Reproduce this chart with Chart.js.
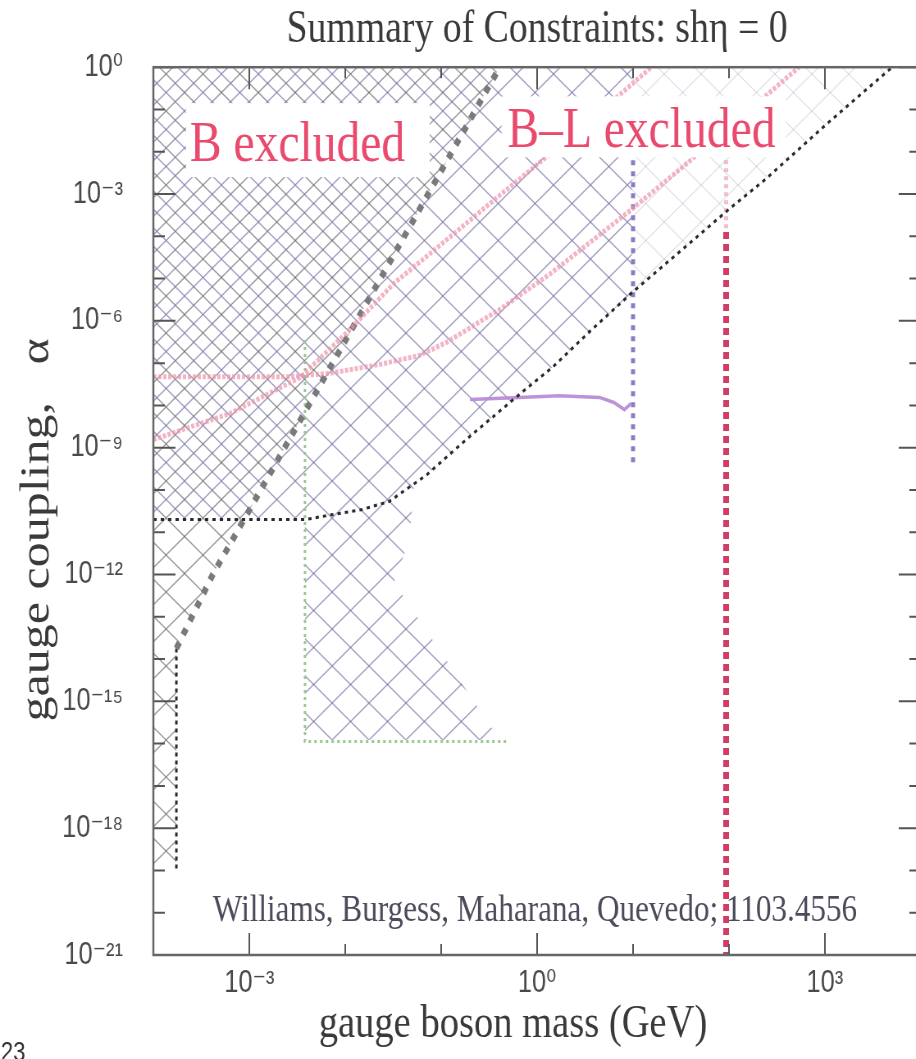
<!DOCTYPE html>
<html>
<head>
<meta charset="utf-8">
<script src="https://cdn.jsdelivr.net/npm/chart.js@4.4.1/dist/chart.umd.min.js"></script>
<style>
  body { margin: 0; overflow: hidden; background: #fff; }
  /* the scanned figure is squeezed horizontally; draw wide and squeeze the same way */
  #wrap { width: 1134px; height: 1059px; transform: scaleX(0.82); transform-origin: 0 0; }
</style>
</head>
<body>
<div id="wrap"><canvas id="c" width="1134" height="1059"></canvas></div>
<script>
// all values are log10 of mass (GeV) and log10 of alpha
const xTickExp = [-4, -3, -2, -1, 0, 1, 2, 3, 4];
const yTickExp = [0, -1, -2, -3, -4, -5, -6, -7, -8, -9, -10, -11, -12, -13, -14, -15, -16, -17, -18, -19, -20, -21];
const xLabelExp = [-3, 0, 3];
const yLabelExp = [0, -3, -6, -9, -12, -15, -18, -21];

// B bound (grey squares) and its dotted tail
const bLineM = [-3.76, -3.38, -1.67, -0.39];
const bLineA = [-13.75, -12.0, -5.15, 0.0];
const bTailM = [-3.76, -3.76];
const bTailA = [-13.75, -19.0];
const bFloorA = -19.0;

// B-L bound (black dotted)
const blM = [-4.0, -2.42, -1.82, -1.54, -1.15, -0.705, -0.185, 0.16, 0.54, 0.99, 1.55, 2.0, 2.38, 3.04, 3.70];
const blA = [-10.70, -10.70, -10.46, -10.27, -9.64, -8.74, -7.74, -7.10, -6.27, -5.33, -4.24, -3.36, -2.65, -1.30, 0.0];

// hatched wedge below the B-L bound
const triM = [-2.42, -1.82, -1.54, -1.28, -1.33, -1.49, -0.39, -2.42, -2.42];
const triA = [-10.70, -10.46, -10.27, -9.75, -11.17, -12.19, -15.91, -15.91, -10.70];

// green dashed
const greenM = [-2.42, -2.42, -0.30];
const greenA = [-6.45, -15.95, -15.95];

// purple solid + purple dashed
const purpM = [-0.70, -0.185, 0.23, 0.65, 0.80, 0.91, 0.98];
const purpA = [-7.86, -7.81, -7.77, -7.81, -7.93, -8.10, -7.95];
const purpDashM = [1.0, 1.0];
const purpDashA = [-2.2, -9.4];

// red dashed (Z-ish mass) and faint top piece
const redM = [1.97, 1.97];
const redA = [-3.9, -21.0];
const redTopM = [1.97, 1.97];
const redTopA = [-2.2, -3.9];

// pink bands
const pinkUpM = [-4.0, -3.20, -2.47, -1.95, -1.49, -0.91, -0.39, 0.13, 0.65, 1.19];
const pinkUpA = [-8.81, -8.19, -7.34, -6.20, -5.11, -4.02, -3.03, -2.06, -1.07, 0.0];
const pinkLoM = [-4.0, -2.58, -2.16, -1.64, -1.23, -0.945, -0.39, 0.13, 0.96, 1.55, 2.10, 2.73];
const pinkLoA = [-7.32, -7.32, -7.24, -7.03, -6.82, -6.51, -5.73, -4.90, -3.41, -2.30, -1.23, 0.0];

const SUP = {'-': '⁻', '0': '⁰', '1': '¹', '2': '²', '3': '³', '4': '⁴', '5': '⁵', '6': '⁶', '7': '⁷', '8': '⁸', '9': '⁹'};
const sup = e => String(e).split('').map(ch => SUP[ch]).join('');
const pts = (ms, as) => ms.map((m, i) => ({x: 10 ** m, y: 10 ** as[i]}));

function hatch(color, lw, off) {
    const w = 45, h = 37;
    const c = document.createElement('canvas');
    c.width = w; c.height = h;
    const g = c.getContext('2d');
    g.strokeStyle = color; g.lineWidth = lw;
    for (let k = -2; k <= 2; k++) {
        const x0 = off + k * w;
        g.beginPath(); g.moveTo(x0 - 2 * w, -2 * h); g.lineTo(x0 + 2 * w, 2 * h); g.stroke();
        g.beginPath(); g.moveTo(x0 + 2 * w, -2 * h); g.lineTo(x0 - 2 * w, 2 * h); g.stroke();
    }
    return g.createPattern(c, 'repeat');
}
const hatchBL = hatch('rgba(110,105,160,0.62)', 1.4, 0);
const hatchB = hatch('rgba(95,95,105,0.62)', 1.4, 22.5);
const hatchFaint = hatch('rgba(140,140,175,0.28)', 1.2, 0);

function line(data, color, width, dash) {
    return {data, showLine: true, pointRadius: 0, borderColor: color, borderWidth: width,
            borderDash: dash || [], borderCapStyle: 'butt', fill: false, tension: 0, order: 1};
}
function area(data, pattern, fill) {
    return {data, showLine: true, pointRadius: 0, borderWidth: 0, borderColor: 'rgba(0,0,0,0)',
            backgroundColor: pattern, fill, tension: 0, order: 5};
}

const bArea = [{x: 1e-4, y: 10 ** bFloorA}, {x: 10 ** bTailM[0], y: 10 ** bFloorA}].concat(pts(bLineM, bLineA));

const datasets = [
    line(pts(pinkUpM, pinkUpA), 'rgba(236,150,172,0.7)', 5, [4, 2]),
    line(pts(pinkLoM, pinkLoA), 'rgba(236,150,172,0.7)', 5, [4, 2]),
    line(pts(bLineM, bLineA), '#7a7a7a', 7, [7, 9]),
    line(pts(bTailM, bTailA), '#2a2a2a', 3, [4, 4]),
    line(pts(blM, blA), '#2a2a2a', 3, [4, 5]),
    line(pts(greenM, greenA), '#9cc88f', 3, [3, 4]),
    line(pts(purpM, purpA), 'rgba(185,140,215,0.95)', 3.5),
    line(pts(purpDashM, purpDashA), '#8c7cc0', 5, [5, 6]),
    line(pts(redM, redA), '#d23c64', 7, [7, 5]),
    line(pts(redTopM, redTopA), 'rgba(230,150,170,0.6)', 5, [4, 4]),
    area(pts(blM.slice(0, 10), blA.slice(0, 10)), hatchBL, 'end'),
    area(pts(blM.slice(9), blA.slice(9)), hatchFaint, 'end'),
    area(pts(triM, triA), hatchBL, 'shape'),
    area(bArea, hatchB, 'end')
];

const at = (chart, m, a) => [chart.scales.x.getPixelForValue(10 ** m), chart.scales.y.getPixelForValue(10 ** a)];

const overlay = {
    id: 'overlay',
    beforeDatasetsDraw(chart) {
        const ctx = chart.ctx;
        ctx.save();
        ctx.font = '38px "Liberation Serif"';
        ctx.fillStyle = '#4b4b5c';
        ctx.textBaseline = 'alphabetic';
        const [tx, ty] = at(chart, -3.38, -20.2);
        ctx.fillText('Williams, Burgess, Maharana, Quevedo; 1103.4556', tx, ty);
        ctx.restore();
    },
    afterDatasetsDraw(chart) {
        const ctx = chart.ctx;
        ctx.save();
        ctx.fillStyle = '#fff';
        [[-3.66, -0.85, -1.12, -2.60], [-0.37, -0.69, 2.59, -2.13]].forEach(b => {
            const [x1, y1] = at(chart, b[0], b[1]);
            const [x2, y2] = at(chart, b[2], b[3]);
            ctx.fillRect(x1, y1, x2 - x1, y2 - y1);
        });
        ctx.font = '58px "Liberation Serif"';
        ctx.fillStyle = '#e94a6e';
        ctx.textBaseline = 'alphabetic';
        let [tx, ty] = at(chart, -3.62, -2.225);
        ctx.fillText('B excluded', tx, ty);
        [tx, ty] = at(chart, -0.31, -1.89);
        ctx.fillText('B–L excluded', tx, ty);
        ctx.restore();
    },
    afterDraw(chart) {
        const {ctx, chartArea: a, scales: {x, y}} = chart;
        ctx.save();
        ctx.strokeStyle = '#555';
        ctx.lineWidth = 2;
        ctx.beginPath();
        xTickExp.forEach(e => {
            const p = x.getPixelForValue(10 ** e);
            const len = e % 3 === 0 ? 22 : 11;
            ctx.moveTo(p, a.bottom); ctx.lineTo(p, a.bottom - len);
            ctx.moveTo(p, a.top); ctx.lineTo(p, a.top + len);
        });
        yTickExp.forEach(e => {
            const p = y.getPixelForValue(10 ** e);
            const len = e % 3 === 0 ? 27 : 14;
            ctx.moveTo(a.left, p); ctx.lineTo(a.left + len, p);
            ctx.moveTo(a.right, p); ctx.lineTo(a.right - len, p);
        });
        ctx.stroke();
        ctx.strokeStyle = '#666';
        ctx.lineWidth = 2.5;
        ctx.strokeRect(a.left, a.top, a.right - a.left, a.bottom - a.top);
        ctx.font = '27px "Liberation Sans"';
        ctx.fillStyle = '#333';
        ctx.textBaseline = 'top';
        ctx.fillText('23', 1, 1040);
        ctx.restore();
    }
};

Chart.defaults.font.family = '"Liberation Serif", serif';

new Chart(document.getElementById('c'), {
    type: 'scatter',
    data: {datasets},
    plugins: [overlay],
    options: {
        responsive: false,
        devicePixelRatio: 1,
        animation: false,
        events: [],
        layout: {padding: {left: 0, right: 11, top: 0, bottom: 0}},
        plugins: {
            legend: {display: false},
            tooltip: {enabled: false},
            title: {
                display: true, fullSize: false,
                text: 'Summary of Constraints: shη = 0',
                font: {family: '"Liberation Serif", serif', size: 46, weight: 'normal'},
                color: '#3a3a3a',
                padding: {top: 2, bottom: 10}
            }
        },
        scales: {
            x: {
                type: 'logarithmic', position: 'bottom', min: 1e-4, max: 1e4,
                afterFit: s => { s.height = 104; },
                afterBuildTicks: s => { s.ticks = xTickExp.map(e => ({value: 10 ** e})); },
                grid: {display: false, drawTicks: false},
                border: {display: false},
                ticks: {
                    autoSkip: false, maxRotation: 0, minRotation: 0, padding: 10,
                    font: {family: '"Liberation Sans", "DejaVu Sans", sans-serif', size: 31},
                    color: '#4a4a4a',
                    callback: v => {
                        const e = Math.round(Math.log10(v));
                        return xLabelExp.includes(e) ? '10' + sup(e) : '';
                    }
                },
                title: {
                    display: true, text: 'gauge boson mass (GeV)     ',
                    font: {family: '"Liberation Serif", serif', size: 47},
                    color: '#3a3a3a', padding: {top: 0, bottom: 6}
                }
            },
            y: {
                type: 'logarithmic', position: 'left', min: 1e-21, max: 1,
                afterFit: s => { s.width = 187; },
                afterBuildTicks: s => { s.ticks = yTickExp.map(e => ({value: 10 ** e})); },
                grid: {display: false, drawTicks: false},
                border: {display: false},
                ticks: {
                    autoSkip: false, padding: 37,
                    font: {family: '"Liberation Sans", "DejaVu Sans", sans-serif', size: 31},
                    color: '#4a4a4a',
                    callback: v => {
                        const e = Math.round(Math.log10(v));
                        return yLabelExp.includes(e) ? '10' + sup(e) : '';
                    }
                },
                title: {
                    display: true, text: 'gauge coupling,   α   ',
                    font: {family: '"Liberation Serif", serif', size: 50},
                    color: '#3a3a3a', padding: {top: 16, bottom: 0}
                }
            }
        }
    }
});
</script>
</body>
</html>
